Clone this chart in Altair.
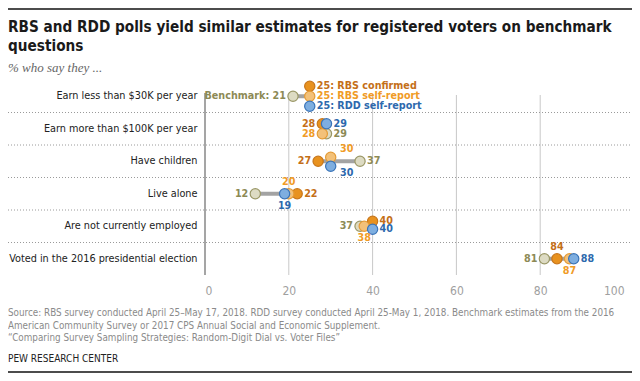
import altair as alt
import pandas as pd

questions = [
    "Earn less than $30K per year",
    "Earn more than $100K per year",
    "Have children",
    "Live alone",
    "Are not currently employed",
    "Voted in the 2016 presidential election",
]
series = ["Benchmark", "RBS confirmed", "RBS self-report", "RDD self-report"]
benchmark = [21, 29, 37, 12, 37, 81]
rbs_confirmed = [25, 28, 27, 22, 40, 84]
rbs_self = [25, 28, 30, 20, 38, 87]
rdd_self = [25, 29, 30, 19, 40, 88]
x_ticks = [0, 20, 40, 60, 80, 100]
grid_ticks = [20, 40, 60, 80]

# where each value label sits relative to its dot (per row)
label_side = {
    "Benchmark": ["left", "right", "right", "left", "left", "left"],
    "RBS confirmed": ["right", "left", "left", "right", "right", "above"],
    "RBS self-report": ["right", "left", "aboveright", "above", "below", "below"],
    "RDD self-report": ["right", "right", "belowright", "below", "right", "right"],
}
# small vertical nudge of overlapping dots (px)
nudge = {
    "Benchmark": [0, 5, 0, 0, 0, 0],
    "RBS confirmed": [-10, -5, 0, 0, -5, 0],
    "RBS self-report": [0, 5, -4, 0, 0, 0],
    "RDD self-report": [10, -5, 5, 0, 3, 0],
}

values = {
    "Benchmark": benchmark,
    "RBS confirmed": rbs_confirmed,
    "RBS self-report": rbs_self,
    "RDD self-report": rdd_self,
}
rows = []
for s in series:
    for i, q in enumerate(questions):
        v = values[s][i]
        if i == 0:
            lab = f"Benchmark: {v}" if s == "Benchmark" else f"{v}: {s}"
        else:
            lab = str(v)
        rows.append({"question": q, "series": s, "value": v,
                     "jit": nudge[s][i], "side": label_side[s][i], "label": lab})
df = pd.DataFrame(rows)

fills = ["#dddbc3", "#e8921f", "#f3c179", "#7eaee0"]
strokes = ["#9a9766", "#c8761a", "#e49b36", "#3a74b8"]
text_cols = ["#8d8a55", "#c46f18", "#f09b26", "#2d69ad"]

W, H = 419, 195
HALF_BAND = H / len(questions) / 2
NARROW = "'Liberation Sans Narrow', 'DejaVu Sans Condensed', 'Roboto Condensed', sans-serif"

xscale = alt.Scale(domain=[0, 100], nice=False)
yenc = alt.Y("question:N", sort=questions,
             scale=alt.Scale(paddingInner=0, paddingOuter=0),
             axis=alt.Axis(title=None, domain=False, ticks=False, labelFontSize=10.8,
                           labelColor="#222", labelPadding=8, labelLimit=0,
                           labelFont=NARROW))
xenc = alt.X("value:Q", scale=xscale,
             axis=alt.Axis(values=x_ticks, grid=False, domain=False, ticks=False,
                           labelColor="#a0a0a0", labelFontSize=12, labelPadding=10,
                           labelFont=NARROW, title=None))

base = alt.Chart(df).transform_calculate(off=f"datum.jit + {HALF_BAND}")

grid = alt.Chart(pd.DataFrame({"g": grid_ticks})).mark_rule(color="#c8c8c8", strokeWidth=1).encode(
    x=alt.X("g:Q", scale=xscale), y=alt.value(15), y2=alt.value(H))
zero = alt.Chart(pd.DataFrame({"g": [0]})).mark_rule(color="#8f8f8f", strokeWidth=1.6).encode(
    x=alt.X("g:Q", scale=xscale), y=alt.value(13), y2=alt.value(H))

seps = alt.Chart(pd.DataFrame({"question": questions[1:]})).mark_rule(
    color="#9a9a9a", strokeDash=[1, 2], strokeWidth=1).encode(
    y=alt.Y("question:N", sort=questions, bandPosition=0),
    x=alt.value(-197), x2=alt.value(W + 8))

rng = alt.Chart(df).transform_aggregate(lo="min(value)", hi="max(value)", groupby=["question"]).mark_rule(
    color="#a3a3a3", strokeWidth=4).encode(
    x=alt.X("lo:Q", scale=xscale), x2="hi:Q", y=alt.Y("question:N", sort=questions))

dots = base.mark_circle(size=105, opacity=1, strokeWidth=1.2).encode(
    x=xenc, y=yenc,
    yOffset=alt.YOffset("off:Q", scale=None),
    fill=alt.Fill("series:N", scale=alt.Scale(domain=series, range=fills), legend=None),
    stroke=alt.Stroke("series:N", scale=alt.Scale(domain=series, range=strokes), legend=None),
)

def labels(side, **kw):
    return base.transform_filter(alt.datum.side == side).mark_text(
        font=NARROW, fontWeight="bold", fontSize=10.7, baseline="middle", **kw).encode(
        x=alt.X("value:Q", scale=xscale),
        y=alt.Y("question:N", sort=questions),
        yOffset=alt.YOffset("off:Q", scale=None),
        text="label:N",
        color=alt.Color("series:N", scale=alt.Scale(domain=series, range=text_cols), legend=None),
    )

lab_left = labels("left", align="right", dx=-7)
lab_right = labels("right", align="left", dx=7)
lab_above = labels("above", align="center", dy=-12)
lab_below = labels("below", align="center", dy=12)
lab_above_r = labels("aboveright", align="center", dx=16, dy=-8)
lab_below_r = labels("belowright", align="center", dx=16, dy=7)

one = pd.DataFrame({"a": [0]})
title = alt.Chart(one).mark_text(
    text=["RBS and RDD polls yield similar estimates for registered voters on benchmark",
          "questions"],
    font=NARROW, fontWeight="bold", fontSize=15.2, color="#1a1a1a", align="left",
    baseline="top", lineHeight=19).encode(x=alt.value(-197), y=alt.value(-60))
subtitle = alt.Chart(one).mark_text(
    text="% who say they ...", font="'Liberation Serif', serif", fontStyle="italic",
    fontSize=13, color="#666", align="left", baseline="middle").encode(
    x=alt.value(-197), y=alt.value(-12))
source = alt.Chart(one).mark_text(
    text=["Source: RBS survey conducted April 25\u2013May 17, 2018. RDD survey conducted April 25-May 1, 2018. Benchmark estimates from the 2016",
          "American Community Survey or 2017 CPS Annual Social and Economic Supplement.",
          "\u201cComparing Survey Sampling Strategies: Random-Digit Dial vs. Voter Files\u201d"],
    font=NARROW, fontSize=9.8, color="#8a8a8a", align="left", baseline="top",
    lineHeight=12.5).encode(x=alt.value(-197), y=alt.value(228))
pew = alt.Chart(one).mark_text(
    text="PEW RESEARCH CENTER", font=NARROW, fontSize=10, color="#222", align="left",
    baseline="middle").encode(x=alt.value(-197), y=alt.value(279))
top_line = alt.Chart(one).mark_rule(color="#111", strokeWidth=1.5).encode(
    x=alt.value(-197), x2=alt.value(W + 8), y=alt.value(-71))
bot_line = alt.Chart(one).mark_rule(color="#111", strokeWidth=1.5).encode(
    x=alt.value(-197), x2=alt.value(W + 8), y=alt.value(292))

chart = alt.layer(
    grid, zero, seps, rng, dots, lab_left, lab_right, lab_above, lab_below,
    lab_above_r, lab_below_r,
    title, subtitle, source, pew, top_line, bot_line,
).properties(
    width=W, height=H, autosize="none",
    padding={"left": 197, "top": 72, "right": 8, "bottom": 98},
).configure_view(stroke=None)

chart.save("out.html", embed_options={"renderer": "svg", "actions": False})
